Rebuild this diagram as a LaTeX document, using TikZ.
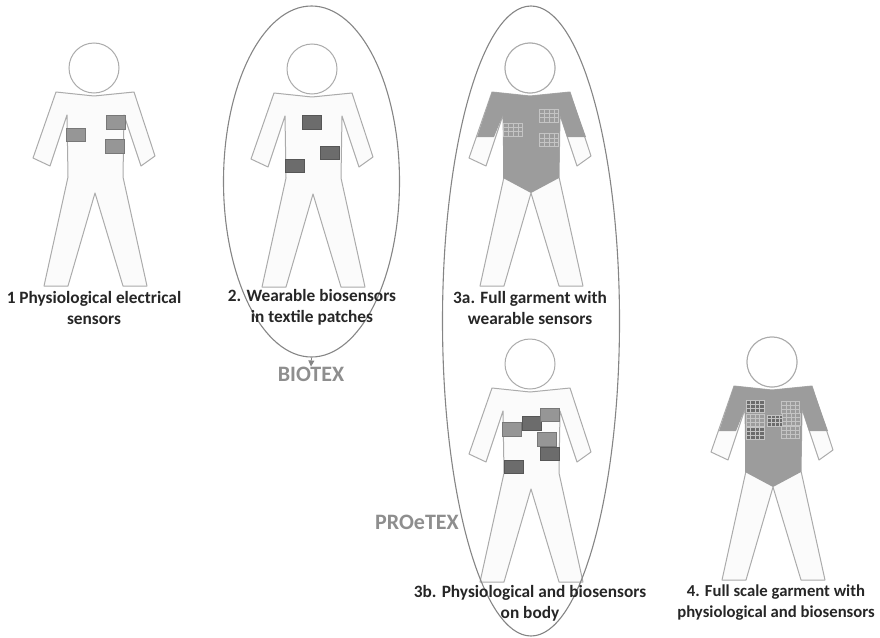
\documentclass[tikz,border=0pt]{standalone}
\usepackage{fontspec}
\setmainfont{Carlito}
\usepackage{xcolor}
\usetikzlibrary{arrows.meta, shapes.geometric, calc}
\definecolor{outlinecol} {HTML}{ABABAB}
\definecolor{bodyfill}   {HTML}{FBFBFB}
\definecolor{ringcol}    {HTML}{858585}
\definecolor{garmentcol} {HTML}{9C9C9C}
\definecolor{patchmid}   {HTML}{969696}
\definecolor{patchdark}  {HTML}{6C6C6C}
\definecolor{gridcol}    {HTML}{C4C4C4}
\definecolor{captioncol} {HTML}{262626}
\definecolor{projectcol} {HTML}{8E8E8E}
\tikzset{
  caption/.style={
    align=center, inner sep=0pt, font=\fontsize{17.3}{21}\selectfont\bfseries,
    text=captioncol
  },
  projectlabel/.style={
    inner sep=0pt, font=\fontsize{22}{24}\selectfont\bfseries, text=projectcol
  },
  projectring/.style={
    ellipse, draw=ringcol, line width=1.1pt, inner sep=0pt
  },
  patch/.style={
    rectangle, minimum width=19pt, minimum height=13.5pt, inner sep=0pt,
    fill=#1, draw=#1!80!black, line width=0.6pt
  },
  gridpatch/.style={
    rectangle, minimum width=19pt, minimum height=13pt, inner sep=0pt,
    fill=#1, draw=gridcol, line width=0.5pt,
    path picture={
      \foreach \f in {0.25,0.5,0.75}{
        \draw[gridcol, line width=0.5pt]
          ($(path picture bounding box.north west)!\f!(path picture bounding box.north east)$) --
          ($(path picture bounding box.south west)!\f!(path picture bounding box.south east)$);
      }
      \foreach \f in {0.33,0.66}{
        \draw[gridcol, line width=0.5pt]
          ($(path picture bounding box.north west)!\f!(path picture bounding box.south west)$) --
          ($(path picture bounding box.north east)!\f!(path picture bounding box.south east)$);
      }
    }
  },
  pics/person/.style={
    code={
      \draw[draw=outlinecol, fill=bodyfill, line width=1pt, line join=round]
        (-38,24) -- (0,28) -- (40,24) -- (61,88) -- (47,98) -- (30,47)
        -- (29,109) -- (53,218) -- (29,218) -- (1,125) -- (-26,218)
        -- (-50,218) -- (-26,109) -- (-27,47) -- (-44,98) -- (-61,90) -- cycle;
      \draw[draw=outlinecol, fill=white, line width=1pt] (0,0) circle[radius=25];
    }
  },
  pics/garment/.style={
    code={
      \fill[garmentcol]
        (-38,24) -- (0,28) -- (40,24) -- (56,69) -- (37,69) -- (30,47)
        -- (29,110) -- (1,125) -- (-27,110) -- (-27,47) -- (-36,69) -- (-53,69) -- cycle;
      \draw[draw=outlinecol, fill=white, line width=1pt] (0,0) circle[radius=25];
    }
  }
}
\begin{document}
\begin{tikzpicture}[x=1pt, y=-1pt]
  \useasboundingbox (0,0) rectangle (880,637);

  % figures
  \pic at (94,68)  {person};
  \pic at (312,69) {person};
  \pic at (530,68) {person};
  \pic at (530,68) {garment};
  \pic at (530,364) {person};
  \pic at (772,362) {person};
  \pic at (772,362) {garment};

  % sensors on figure 1
  \node[patch=patchmid] (a1) at (75.5,135) {};
  \node[patch=patchmid] (a2) at (116,122.5) {};
  \node[patch=patchmid] (a3) at (114.5,146.5) {};

  % sensors on figure 2
  \node[patch=patchdark] (b1) at (311.5,122.5) {};
  \node[patch=patchdark] (b2) at (329.5,153) {};
  \node[patch=patchdark] (b3) at (294.5,166) {};

  % sensors on figure 3a
  \node[gridpatch=garmentcol] (c1) at (513,129.5) {};
  \node[gridpatch=garmentcol] (c2) at (549,115.5) {};
  \node[gridpatch=garmentcol] (c3) at (549,140) {};

  % sensors on figure 3b
  \node[patch=patchmid]  (d1) at (512,429.5) {};
  \node[patch=patchdark] (d2) at (531.5,423.5) {};
  \node[patch=patchmid]  (d3) at (549.5,415) {};
  \node[patch=patchmid]  (d4) at (547,439.5) {};
  \node[patch=patchdark] (d5) at (549.5,454) {};
  \node[patch=patchdark] (d6) at (513.5,467) {};

  % sensors on figure 4
  \node[gridpatch=patchdark, minimum width=18pt, minimum height=12pt] (e1) at (755,406) {};
  \node[gridpatch=garmentcol, minimum width=18pt, minimum height=12pt] (e2) at (755,420) {};
  \node[gridpatch=patchdark, minimum width=18pt, minimum height=12pt] (e3) at (755,433.5) {};
  \node[gridpatch=patchdark, minimum width=16pt, minimum height=11pt] (e4) at (775,420.5) {};
  \node[gridpatch=garmentcol, minimum width=18pt, minimum height=12pt] (e5) at (790.5,407) {};
  \node[gridpatch=garmentcol, minimum width=18pt, minimum height=12pt] (e6) at (791,419.5) {};
  \node[gridpatch=garmentcol, minimum width=18pt, minimum height=12pt] (e7) at (790.5,432.5) {};

  % project rings
  \node[projectring, minimum width=176pt, minimum height=351pt] (biotexring) at (311.5,181.5) {};
  \node[projectring, minimum width=177pt, minimum height=630pt] (proetexring) at (531,321) {};

  \node[projectlabel] (biotex) at (311,374) {BIOTEX};
  \node[projectlabel] (proetex) at (417,522) {PROeTEX};
  \draw[-{Triangle[length=6pt, width=6pt]}, draw=ringcol, line width=0.8pt] (biotexring.south) -- (biotex.north);

  % captions
  \node[caption] (cap1) at (94,307.5) {1 Physiological electrical\\sensors};
  \node[caption] (cap2) at (312,307.5) {2. Wearable biosensors\\in textile patches};
  \node[caption] (cap3a) at (530,307.5) {3a. Full garment with\\wearable sensors};
  \node[caption] (cap3b) at (530,603) {3b. Physiological and biosensors\\on body};
  \node[caption, font=\fontsize{16.7}{21}\selectfont\bfseries] (cap4) at (776,602.5) {4. Full scale garment with\\physiological and biosensors};

\end{tikzpicture}
\end{document}
